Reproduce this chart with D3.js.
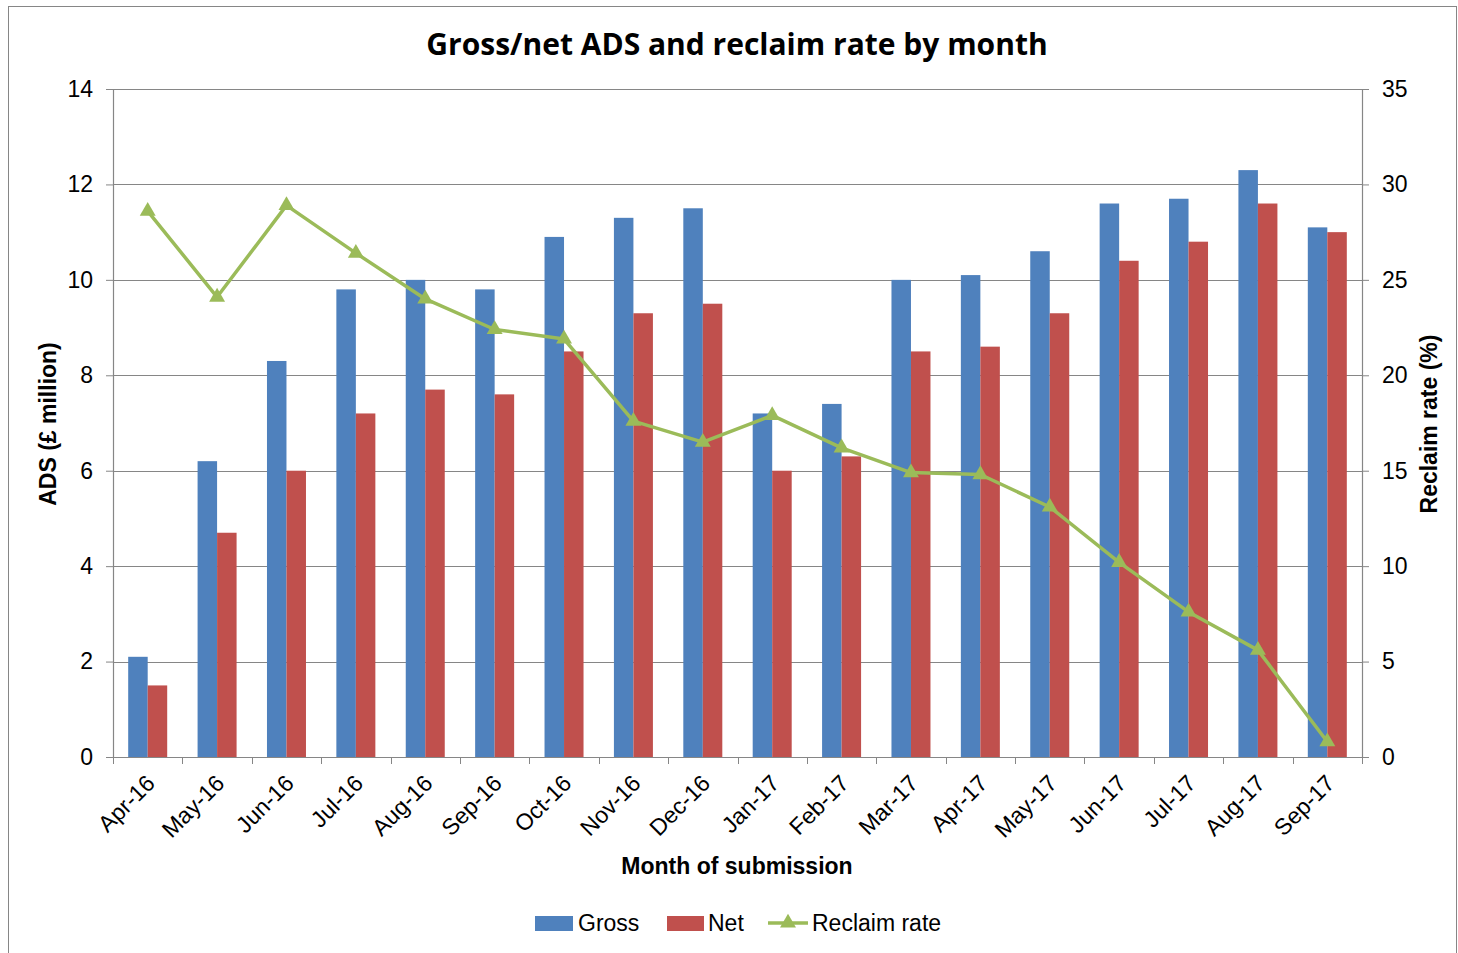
<!DOCTYPE html>
<html>
<head>
<meta charset="utf-8">
<script src="https://cdn.jsdelivr.net/npm/d3@7"></script>
<style>
  body { margin: 0; background: #fff; }
  text { font-family: "Liberation Sans", Arial, sans-serif; fill: #000; }
</style>
</head>
<body>
<div class="chart"></div>
<script>
// data
const months = ["Apr-16","May-16","Jun-16","Jul-16","Aug-16","Sep-16","Oct-16","Nov-16","Dec-16",
                "Jan-17","Feb-17","Mar-17","Apr-17","May-17","Jun-17","Jul-17","Aug-17","Sep-17"];
const gross = [2.1, 6.2, 8.3, 9.8, 10.0, 9.8, 10.9, 11.3, 11.5, 7.2, 7.4, 10.0, 10.1, 10.6, 11.6, 11.7, 12.3, 11.1];
const net   = [1.5, 4.7, 6.0, 7.2, 7.7, 7.6, 8.5, 9.3, 9.5, 6.0, 6.3, 8.5, 8.6, 9.3, 10.4, 10.8, 11.6, 11.0];
const reclaim = [28.6, 24.1, 28.9, 26.4, 24.0, 22.4, 21.9, 17.6, 16.5, 17.9, 16.2, 14.9, 14.8, 13.1, 10.2, 7.6, 5.6, 0.8];
const leftTicks = [0, 2, 4, 6, 8, 10, 12, 14];
const rightTicks = [0, 5, 10, 15, 20, 25, 30, 35];
const seriesNames = ["Gross", "Net", "Reclaim rate"];

const W = 1458, H = 953;
const colors = { gross: "#4F81BD", net: "#C0504D", line: "#9BBB59" };
const margin = { top: 89, right: 96, bottom: 196, left: 113 };
const iw = W - margin.left - margin.right;   // 1249
const ih = H - margin.top - margin.bottom;   // 668
const fs = "23px";

const svg = d3.select(".chart").append("svg")
  .attr("width", W).attr("height", H);

// outer frame
svg.append("rect")
  .attr("x", 8.5).attr("y", 6.5)
  .attr("width", W - 10).attr("height", H)
  .attr("fill", "none").attr("stroke", "#868686").attr("stroke-width", 1);

const g = svg.append("g")
  .attr("transform", "translate(" + margin.left + "," + margin.top + ")");

const x = d3.scaleBand().domain(months).range([0, iw]);
const y = d3.scaleLinear().domain([0, 14]).range([ih, 0]);
const y2 = d3.scaleLinear().domain([0, 35]).range([ih, 0]);
const barW = 19.5;

// gridlines
g.append("g").selectAll("line")
  .data(leftTicks)
  .enter().append("line")
  .attr("x1", 0).attr("x2", iw)
  .attr("y1", d => Math.round(y(d)) + 0.5).attr("y2", d => Math.round(y(d)) + 0.5)
  .attr("stroke", "#868686").attr("stroke-width", 1.2);

// bars
const pairs = months.map((m, i) => ({ m: m, gross: gross[i], net: net[i] }));
const grp = g.selectAll(".month").data(pairs).enter().append("g")
  .attr("class", "month")
  .attr("transform", d => "translate(" + (x(d.m) + x.bandwidth() / 2) + ",0)");
grp.append("rect")
  .attr("x", -barW).attr("width", barW)
  .attr("y", d => y(d.gross)).attr("height", d => ih - y(d.gross))
  .attr("fill", colors.gross);
grp.append("rect")
  .attr("x", 0).attr("width", barW)
  .attr("y", d => y(d.net)).attr("height", d => ih - y(d.net))
  .attr("fill", colors.net);

// left axis
const axL = g.append("g")
  .call(d3.axisLeft(y).tickValues(leftTicks).tickSize(7).tickPadding(13));
// right axis
const axR = g.append("g")
  .attr("transform", "translate(" + iw + ",0)")
  .call(d3.axisRight(y2).tickValues(rightTicks).tickSize(7).tickPadding(13));
// bottom axis: ticks on band edges
const axB = g.append("g")
  .attr("transform", "translate(0," + ih + ")")
  .call(d3.axisBottom(x).tickSize(0).tickPadding(0));
axB.selectAll(".tick text").remove();
g.append("g").selectAll("line")
  .data(d3.range(months.length + 1))
  .enter().append("line")
  .attr("x1", i => Math.round(i * x.step()) + 0.5).attr("x2", i => Math.round(i * x.step()) + 0.5)
  .attr("y1", ih).attr("y2", ih + 7)
  .attr("stroke", "#868686");

[axL, axR, axB].forEach(a => {
  a.select(".domain").attr("stroke", "#868686").attr("stroke-width", 1.2);
  a.selectAll(".tick line").attr("stroke", "#868686");
  a.selectAll(".tick text").style("font-size", fs).attr("fill", "#000");
});
axL.select(".domain").attr("d", "M0.5," + ih + "V0");
axR.select(".domain").attr("d", "M0.5," + ih + "V0");

// month labels rotated
g.append("g").selectAll("text")
  .data(months)
  .enter().append("text")
  .attr("transform", d => "translate(" + (x(d) + x.bandwidth() / 2 + 3) + "," + (ih + 22) + ") rotate(-45)")
  .attr("text-anchor", "end")
  .attr("dy", "0.35em")
  .style("font-size", fs)
  .text(d => d);

// reclaim line
const pts = months.map((m, i) => [x(m) + x.bandwidth() / 2, y2(reclaim[i])]);
g.append("path")
  .datum(pts)
  .attr("d", d3.line())
  .attr("fill", "none")
  .attr("stroke", colors.line)
  .attr("stroke-width", 3.5)
  .attr("stroke-linejoin", "round");
const tri = d3.symbol().type(d3.symbolTriangle).size(110);
g.append("g").selectAll("path")
  .data(pts)
  .enter().append("path")
  .attr("transform", d => "translate(" + d[0] + "," + d[1] + ")")
  .attr("d", tri)
  .attr("fill", colors.line);

// titles
svg.append("text")
  .attr("x", 737).attr("y", 55)
  .attr("text-anchor", "middle")
  .style("font-family", "'Open Sans', sans-serif")
  .style("font-weight", "bold").style("font-size", "30px")
  .text("Gross/net ADS and reclaim rate by month");

svg.append("text")
  .attr("transform", "translate(56,424) rotate(-90)")
  .attr("text-anchor", "middle")
  .style("font-weight", "bold").style("font-size", "23px")
  .text("ADS (£ million)");

svg.append("text")
  .attr("transform", "translate(1437,424) rotate(-90)")
  .attr("text-anchor", "middle")
  .style("font-weight", "bold").style("font-size", "23px")
  .text("Reclaim rate (%)");

svg.append("text")
  .attr("x", 737).attr("y", 874)
  .attr("text-anchor", "middle")
  .style("font-weight", "bold").style("font-size", "23px")
  .text("Month of submission");

// legend
const legend = svg.append("g").attr("transform", "translate(535,923)");
legend.append("rect").attr("x", 0).attr("y", -7).attr("width", 38).attr("height", 15).attr("fill", colors.gross);
legend.append("text").attr("x", 43).attr("y", 0).attr("dy", "0.35em").style("font-size", fs).text(seriesNames[0]);
legend.append("rect").attr("x", 132).attr("y", -7).attr("width", 37).attr("height", 15).attr("fill", colors.net);
legend.append("text").attr("x", 173).attr("y", 0).attr("dy", "0.35em").style("font-size", fs).text(seriesNames[1]);
legend.append("line").attr("x1", 233).attr("x2", 273).attr("y1", 0).attr("y2", 0)
  .attr("stroke", colors.line).attr("stroke-width", 3.5);
legend.append("path").attr("transform", "translate(253,0)").attr("d", tri).attr("fill", colors.line);
legend.append("text").attr("x", 277).attr("y", 0).attr("dy", "0.35em").style("font-size", fs).text(seriesNames[2]);
</script>
</body>
</html>
